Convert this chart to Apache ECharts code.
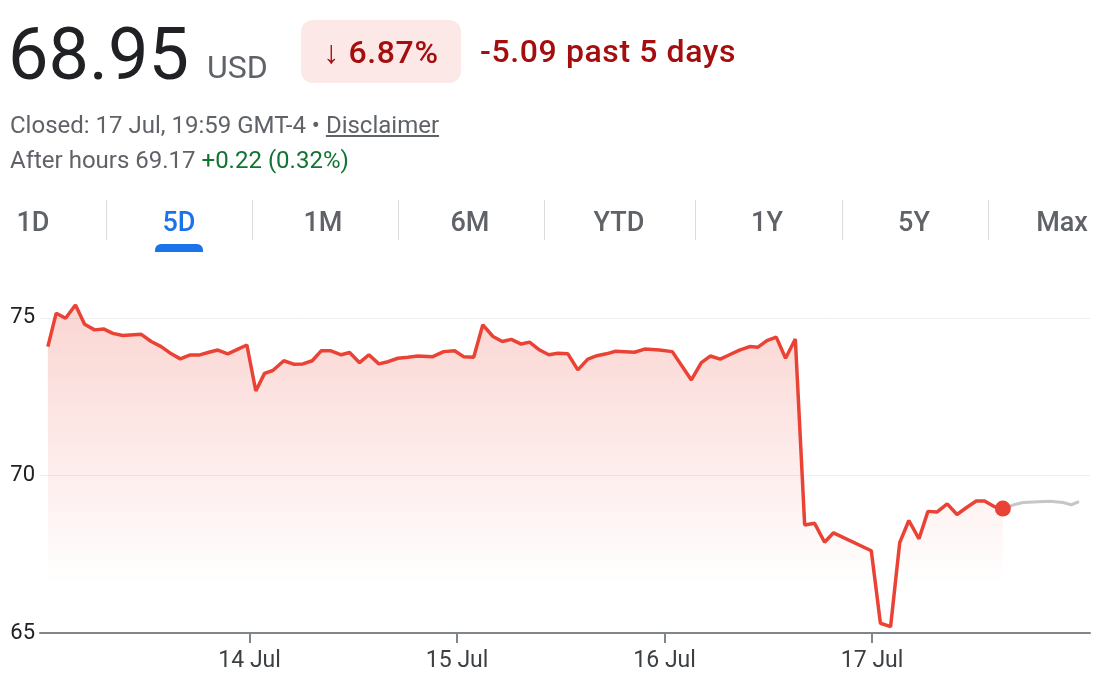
<!DOCTYPE html>
<html>
<head>
<meta charset="utf-8">
<script src="https://cdn.jsdelivr.net/npm/echarts@6/dist/echarts.min.js"></script>
<style>
  html, body { margin: 0; padding: 0; background: #fff; }
  body { width: 1102px; height: 686px; position: relative; overflow: hidden; font-family: Roboto, Arial, sans-serif; }
  #chart { position: absolute; left: 0; top: 0; width: 1102px; height: 686px; }
  .t { position: absolute; line-height: 1; white-space: nowrap; }
  .tab { position: absolute; top: 209px; font-size: 27px; font-weight: 500; color: #5f6368; line-height: 1; transform: translateX(-50%); }
  .sep { position: absolute; top: 200px; width: 1px; height: 40px; background: #dadce0; }
</style>
</head>
<body>
<div id="chart"></div>

<div class="t" style="left:8px;top:19px;font-size:72px;color:#202124;">68.95</div>
<div class="t" style="left:207px;top:51px;font-size:32px;color:#5f6368;">USD</div>
<div style="position:absolute;left:301px;top:20px;width:160px;height:63px;background:#fce8e6;border-radius:12px;display:flex;align-items:center;justify-content:center;">
  <span style="font-size:32px;font-weight:500;color:#a50e0e;line-height:1;letter-spacing:0.6px;">↓ 6.87%</span>
</div>
<div class="t" style="left:480px;top:35px;font-size:32px;font-weight:500;color:#a50e0e;letter-spacing:0.6px;">-5.09 past 5 days</div>
<div class="t" style="left:10px;top:113px;font-size:24px;color:#5f6368;">Closed: 17 Jul, 19:59 GMT-4 • <span style="text-decoration:underline;">Disclaimer</span></div>
<div class="t" style="left:10px;top:148px;font-size:24px;color:#5f6368;">After hours 69.17 <span style="color:#137333;">+0.22 (0.32%)</span></div>

<div class="tab" style="left:33px;">1D</div>
<div class="tab" style="left:179px;color:#1a73e8;">5D</div>
<div class="tab" style="left:323px;">1M</div>
<div class="tab" style="left:470px;">6M</div>
<div class="tab" style="left:619px;">YTD</div>
<div class="tab" style="left:767px;">1Y</div>
<div class="tab" style="left:914px;">5Y</div>
<div class="tab" style="left:1062px;">Max</div>
<div class="sep" style="left:106px;"></div>
<div class="sep" style="left:252px;"></div>
<div class="sep" style="left:398px;"></div>
<div class="sep" style="left:544px;"></div>
<div class="sep" style="left:695px;"></div>
<div class="sep" style="left:842px;"></div>
<div class="sep" style="left:988px;"></div>
<div style="position:absolute;left:155px;top:244px;width:48px;height:8px;background:#1a73e8;border-radius:6px 6px 0 0;"></div>

<script>
// 交易时段 (x = 7月几号 + 当天比例)
var dayTimes = [
  13.028, 13.068, 13.113, 13.161, 13.205, 13.253, 13.296, 13.341, 13.389, 13.478,
  13.526, 13.574, 13.623, 13.666, 13.711, 13.756, 13.804, 13.847, 13.895, 13.944,
  13.987, 14.030, 14.072, 14.112, 14.165, 14.212, 14.257, 14.302, 14.346, 14.389,
  14.442, 14.482, 14.530, 14.575, 14.623, 14.667, 14.715, 14.763, 14.811, 14.883,
  14.935, 14.988, 15.031, 15.080, 15.124, 15.173, 15.218, 15.261, 15.309, 15.349,
  15.398, 15.442, 15.486, 15.534, 15.582, 15.630, 15.674, 15.719, 15.764, 15.855,
  15.904, 15.976, 16.037, 16.129, 16.177, 16.220, 16.268, 16.313, 16.361, 16.410,
  16.450, 16.493, 16.538, 16.583, 16.630, 16.675, 16.723, 16.771, 16.814, 16.996,
  17.040, 17.089, 17.133, 17.177, 17.226, 17.269, 17.312, 17.362, 17.409, 17.457,
  17.502, 17.542, 17.590, 17.630
];
var dayPrices = [
  74.09, 75.15, 74.99, 75.41, 74.80, 74.62, 74.65, 74.51, 74.44, 74.48,
  74.25, 74.09, 73.86, 73.70, 73.82, 73.82, 73.91, 73.98, 73.86, 74.01,
  74.14, 72.68, 73.24, 73.33, 73.64, 73.53, 73.54, 73.64, 73.96, 73.96,
  73.83, 73.90, 73.58, 73.83, 73.54, 73.61, 73.72, 73.75, 73.79, 73.77,
  73.93, 73.96, 73.77, 73.75, 74.78, 74.41, 74.25, 74.32, 74.17, 74.23,
  73.98, 73.83, 73.88, 73.86, 73.35, 73.69, 73.80, 73.86, 73.94, 73.91,
  74.01, 73.98, 73.93, 73.03, 73.58, 73.79, 73.69, 73.83, 73.98, 74.09,
  74.07, 74.28, 74.39, 73.72, 74.33, 68.43, 68.48, 67.88, 68.18, 67.61,
  65.31, 65.20, 67.87, 68.57, 67.99, 68.86, 68.84, 69.10, 68.76, 68.99,
  69.19, 69.19, 69.01, 68.95
];
// 盘后
var afterTimes = [17.630, 17.679, 17.727, 17.855, 17.920, 17.960, 17.997];
var afterPrices = [68.95, 69.06, 69.14, 69.18, 69.14, 69.07, 69.17];

var dayTicks = [14, 15, 16, 17];
var priceTicks = [65, 70, 75];

var myChart = echarts.init(document.getElementById('chart'));

var dayData = dayTimes.map(function (t, i) { return [t, dayPrices[i]]; });
var afterData = afterTimes.map(function (t, i) { return [t, afterPrices[i]]; });
var lastPoint = dayData[dayData.length - 1];

var option = {
  animation: false,
  grid: { left: 40, right: 12, top: 299, bottom: 53 },
  xAxis: {
    type: 'value',
    min: 12.99,
    max: 18.05,
    axisLine: { show: true, onZero: false, lineStyle: { color: '#80868b', width: 2 } },
    axisTick: { show: true, customValues: dayTicks, length: 10, lineStyle: { color: '#80868b', width: 2 } },
    axisLabel: {
      customValues: dayTicks,
      margin: 17,
      color: '#3c4043',
      fontSize: 23,
      fontFamily: 'Roboto',
      formatter: function (v) { return v + ' Jul'; }
    },
    splitLine: { show: false }
  },
  yAxis: {
    type: 'value',
    min: 65,
    max: 75.6,
    interval: 5,
    axisLine: { show: false },
    axisTick: { show: false },
    axisLabel: {
      margin: 5,
      color: '#202124',
      fontSize: 22,
      fontFamily: 'Roboto',
      showMaxLabel: false,
      formatter: function (v) { return priceTicks.indexOf(v) >= 0 ? String(v) : ''; }
    },
    splitLine: { lineStyle: { color: ['#80868b', '#eeeeee', '#eeeeee', 'rgba(0,0,0,0)'], width: 1 } }
  },
  series: [
    {
      name: 'day',
      type: 'line',
      data: dayData,
      symbol: 'none',
      lineStyle: { color: '#ea4335', width: 3.5 },
      areaStyle: {
        color: new echarts.graphic.LinearGradient(0, 0, 0, 1, [
          { offset: 0, color: 'rgba(234,67,53,0.32)' },
          { offset: 0.85, color: 'rgba(234,67,53,0)' }
        ])
      },
      z: 3
    },
    {
      name: 'after',
      type: 'line',
      data: afterData,
      symbol: 'none',
      lineStyle: { color: '#c6c6c6', width: 3 },
      z: 2
    },
    {
      name: 'last',
      type: 'scatter',
      data: [lastPoint],
      symbolSize: 16,
      itemStyle: { color: '#ea4335', opacity: 1 },
      z: 4
    }
  ]
};

option && myChart.setOption(option);
</script>
</body>
</html>
